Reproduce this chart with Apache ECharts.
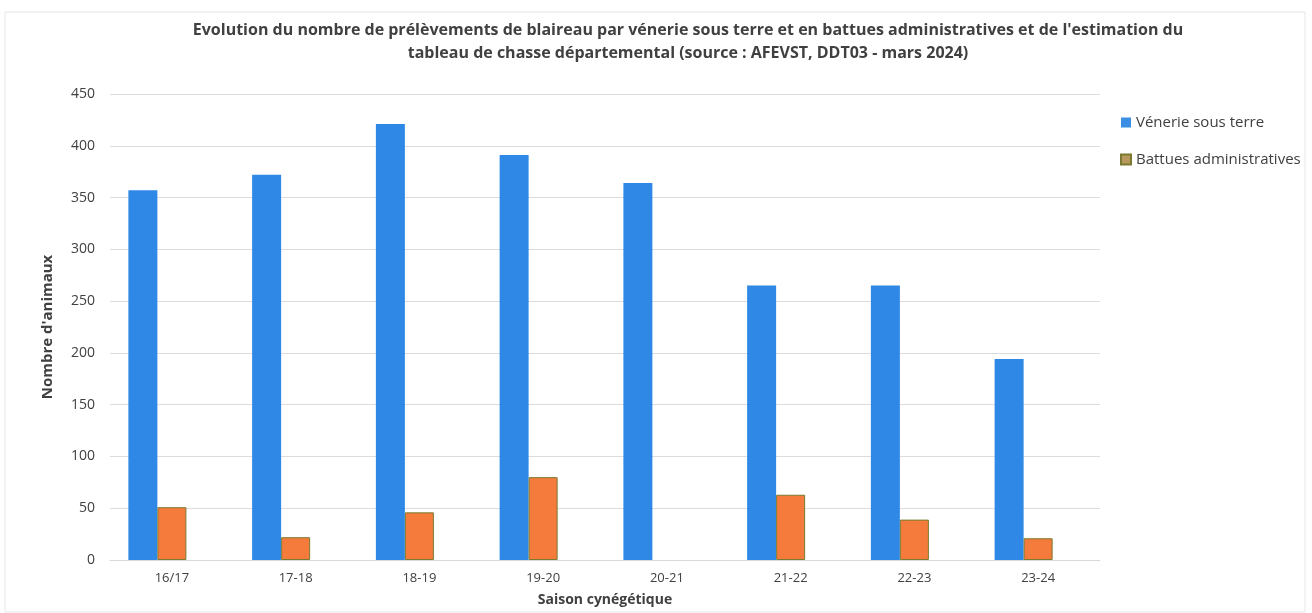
<!DOCTYPE html>
<html>
<head>
<meta charset="utf-8">
<script src="https://cdn.jsdelivr.net/npm/echarts@6/dist/echarts.min.js"></script>
<style>
  html, body { margin: 0; padding: 0; background: #fff; }
  #chart { width: 1312px; height: 613px; }
</style>
</head>
<body>
<div id="chart"></div>
<script>
// saisons
var seasons = ['16/17', '17-18', '18-19', '19-20', '20-21', '21-22', '22-23', '23-24']
// prélèvements
var venerie = [357, 372, 421, 391, 364, 265, 265, 194]
var battues = [51, 22, 46, 80, '-', 63, 39, 21]
// third series of the original sheet, empty
var estimation = ['-', '-', '-', '-', '-', '-', '-', '-']
var yTicks = { min: 0, max: 450, interval: 50 }

var textColor = '#404040'
var font = "'Open Sans', sans-serif"

var myChart = echarts.init(document.getElementById('chart'))
var option = {
    backgroundColor: '#fff',
    animation: false,
    title: {
        text: "Evolution du nombre de prélèvements de blaireau par vénerie sous terre et en battues administratives et de l'estimation du\ntableau de chasse départemental (source : AFEVST, DDT03 - mars 2024)",
        left: 683,
        textAlign: 'center',
        top: 14,
        textStyle: {
            fontFamily: font,
            fontSize: 16,
            fontWeight: 'bold',
            color: textColor,
            lineHeight: 23
        }
    },
    graphic: [{
        type: 'rect',
        shape: { x: 5, y: 12, width: 1300, height: 600 },
        style: { fill: 'none', stroke: '#e6e6e6', lineWidth: 1 },
        silent: true
    }],
    legend: {
        orient: 'vertical',
        left: 1115,
        top: 110,
        itemWidth: 10,
        itemHeight: 10,
        itemGap: 22,
        icon: 'rect',
        textStyle: { fontFamily: font, fontSize: 15, color: textColor },
        data: [
            { name: 'Vénerie sous terre', itemStyle: { color: '#3b8fe3' } },
            { name: 'Battues administratives', itemStyle: { color: '#b8985e' } }
        ]
    },
    grid: { left: 110, right: 212, top: 94, bottom: 53 },
    xAxis: {
        type: 'category',
        data: seasons,
        name: 'Saison cynégétique',
        nameLocation: 'middle',
        nameGap: 33,
        nameTextStyle: { fontFamily: font, fontSize: 14, fontWeight: 'bold', color: textColor },
        axisLine: { lineStyle: { color: '#d9d9d9' } },
        axisTick: { length: 5, lineStyle: { color: '#d9d9d9' } },
        axisLabel: { fontFamily: font, fontSize: 13, color: textColor, margin: 12 }
    },
    yAxis: {
        type: 'value',
        min: yTicks.min,
        max: yTicks.max,
        interval: yTicks.interval,
        name: "Nombre d'animaux",
        nameLocation: 'middle',
        nameGap: 55,
        nameTextStyle: { fontFamily: font, fontSize: 15, fontWeight: 'bold', color: textColor },
        axisLine: { show: false },
        axisTick: { show: false },
        axisLabel: { fontFamily: font, fontSize: 14, color: textColor, margin: 15 },
        splitLine: { lineStyle: { color: '#dcdcdc' } }
    },
    series: [{
        name: 'Vénerie sous terre',
        type: 'bar',
        data: venerie,
        barWidth: 29,
        barGap: '0%',
        itemStyle: { color: '#2f88e5' }
    }, {
        name: 'Battues administratives',
        type: 'bar',
        data: battues,
        barWidth: 29,
        barGap: '0%',
        itemStyle: { color: '#f47b3c', borderColor: '#7a7a30', borderWidth: 1 }
    }, {
        name: 'Estimation',
        type: 'bar',
        data: estimation,
        barWidth: 29,
        barGap: '0%',
        itemStyle: { color: '#a5a5a5' }
    }]
}
myChart.setOption(option)
</script>
</body>
</html>
